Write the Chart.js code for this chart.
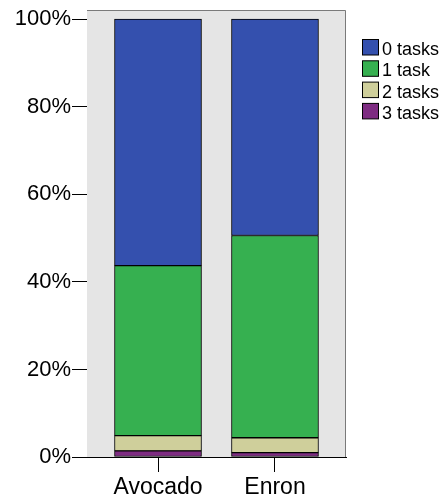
<!DOCTYPE html>
<html>
<head>
<meta charset="utf-8">
<script src="https://cdn.jsdelivr.net/npm/chart.js@4"></script>
<style>
  body { margin: 0; background: #fff; }
  canvas { display: block; }
</style>
</head>
<body>
<canvas id="chart" width="446" height="502"></canvas>
<script>
// data (percent of each corpus)
const categories = ['Avocado', 'Enron'];
const tasks0 = [56.3, 49.4];
const tasks1 = [38.8, 46.2];
const tasks2 = [3.5, 3.4];
const tasks3 = [1.4, 1.0];
const yTicks = [0, 20, 40, 60, 80, 100];

const seriesNames = ['0 tasks', '1 task', '2 tasks', '3 tasks'];
const seriesValues = [tasks0, tasks1, tasks2, tasks3];
const seriesColors = ['#3450ae', '#36b050', '#cfcf9b', '#7e2c82'];

const FONT = "'Liberation Sans', Arial, Helvetica, sans-serif";

// gray plot panel behind the bars, gray frame top/right
const panelPlugin = {
  id: 'panel',
  beforeDatasetsDraw(chart) {
    const a = chart.chartArea;
    const c = chart.ctx;
    c.save();
    c.fillStyle = '#e5e5e5';
    c.fillRect(a.left, a.top, a.right - a.left, a.bottom - a.top);
    c.strokeStyle = '#7a7a7a';
    c.lineWidth = 1;
    c.beginPath();
    c.moveTo(a.left, a.top + 0.5);
    c.lineTo(a.right - 0.5, a.top + 0.5);
    c.lineTo(a.right - 0.5, a.bottom);
    c.stroke();
    c.restore();
  }
};

// legend drawn on the right, top to bottom 0..3 tasks
const legendPlugin = {
  id: 'sideLegend',
  afterDraw(chart) {
    const c = chart.ctx;
    c.save();
    c.font = '18px ' + FONT;
    c.textBaseline = 'alphabetic';
    c.textAlign = 'left';
    seriesNames.forEach((name, i) => {
      const y = 39.5 + i * 21.3;
      c.fillStyle = seriesColors[i];
      c.fillRect(362.5, y, 16, 15.5);
      c.strokeStyle = '#000';
      c.lineWidth = 1;
      c.strokeRect(362.5, y, 16, 15.5);
      c.fillStyle = '#000';
      c.fillText(name, 382, y + 15.5);
    });
    c.restore();
  }
};

// stacked bottom-up: 3 tasks first
const datasets = [3, 2, 1, 0].map(i => ({
  label: seriesNames[i],
  data: seriesValues[i].map((v, k) => ({ x: k + 1, y: v })),
  backgroundColor: seriesColors[i],
  borderColor: '#000',
  borderWidth: 1,
  borderSkipped: false,
  barThickness: 87
}));

new Chart(document.getElementById('chart'), {
  type: 'bar',
  data: { datasets: datasets },
  plugins: [panelPlugin, legendPlugin],
  options: {
    responsive: false,
    animation: false,
    layout: { padding: { top: 10, right: 100, left: 0, bottom: 0 } },
    plugins: {
      legend: { display: false },
      tooltip: { enabled: false }
    },
    scales: {
      x: {
        type: 'linear',
        stacked: true,
        offset: false,
        min: 0.393,
        max: 2.607,
        afterBuildTicks: (scale) => { scale.ticks = categories.map((c, i) => ({ value: i + 1 })); },
        afterFit: (scale) => { scale.height = 45; scale.paddingLeft = 0; scale.paddingRight = 0; },
        grid: { offset: false, drawOnChartArea: false, drawTicks: true, tickLength: 15, color: '#000' },
        border: { display: true, color: '#000' },
        ticks: {
          callback: (v) => categories[v - 1],
          color: '#000',
          font: { family: FONT, size: 23 },
          padding: 2,
          maxRotation: 0
        }
      },
      y: {
        stacked: true,
        min: 0,
        max: 102.1,
        afterBuildTicks: (scale) => { scale.ticks = yTicks.map(v => ({ value: v })); },
        afterFit: (scale) => { scale.width = 87; scale.paddingTop = 0; scale.paddingBottom = 0; },
        grid: { drawOnChartArea: false, drawTicks: true, tickLength: 15, color: '#000' },
        border: { display: true, color: '#000' },
        ticks: {
          callback: (v) => v + '%',
          color: '#000',
          font: { family: FONT, size: 22 },
          padding: 1
        }
      }
    }
  }
});
</script>
</body>
</html>
